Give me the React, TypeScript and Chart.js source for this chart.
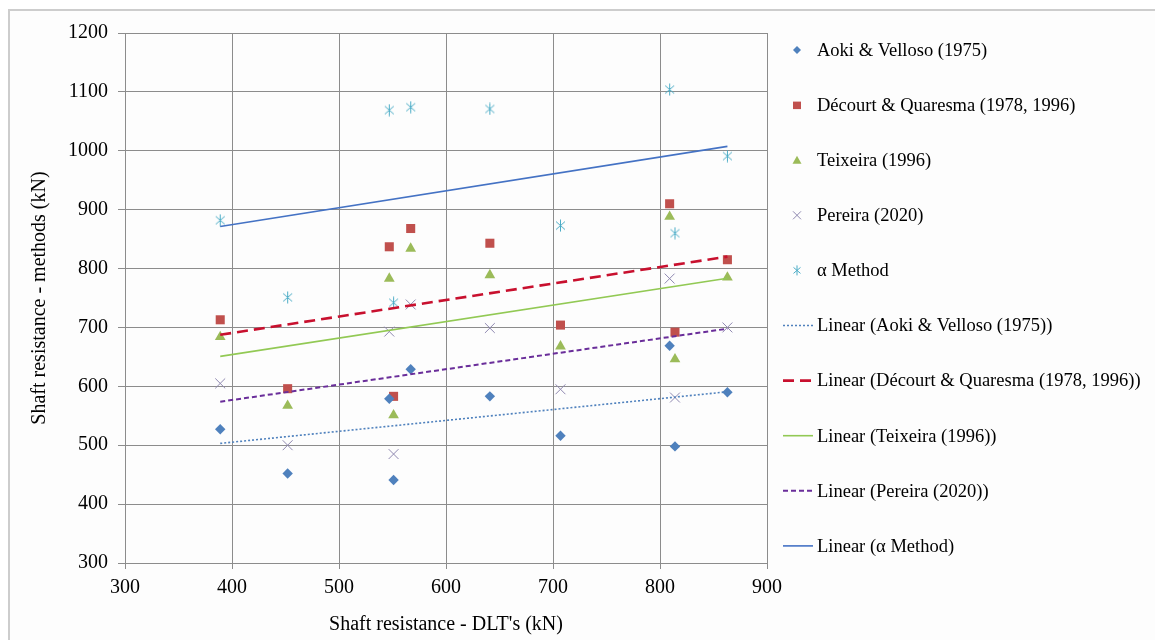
import React, { useEffect, useRef } from "react";
import { Chart, registerables } from "chart.js";

Chart.register(...registerables);

// ---- Data ----
const dltShaft = [389, 452, 547, 551, 567, 641, 707, 809, 814, 863];
const aokiVelloso = [527, 452, 579, 441, 629, 583, 516, 669, 498, 590];
const decourtQuaresma = [713, 596, 837, 583, 868, 843, 704, 910, 692, 815];
const teixeira = [684, 567, 783, 551, 834, 789, 668, 888, 646, 785];
const pereira = [605, 500, 693, 485, 739, 699, 595, 783, 581, 700];
const alphaMethod = [882, 751, 1069, 742, 1074, 1071, 873, 1104, 860, 991];

const seriesNames = [
  "Aoki & Velloso (1975)",
  "Décourt & Quaresma (1978, 1996)",
  "Teixeira (1996)",
  "Pereira (2020)",
  "α Method",
];
const xTickValues = [300, 400, 500, 600, 700, 800, 900];
const yTickValues = [300, 400, 500, 600, 700, 800, 900, 1000, 1100, 1200];
const xTitle = "Shaft resistance - DLT's (kN)";
const yTitle = "Shaft resistance - methods (kN)";

const FONT = "'Liberation Serif', 'Times New Roman', Times, serif";

const pointColors = ["#4F81BD", "#C0504D", "#9BBB59", "#8F88B0", "#4BACC6"];
const markerKinds = ["diamond", "square", "triangle", "x", "asterisk"];
const trendColors = ["#4F81BD", "#C8102E", "#92C954", "#6A2E9A", "#4472C4"];
const trendDash: number[][] = [[2, 2], [11, 6], [], [5, 3], []];
const trendWidth = [1.6, 2.6, 1.6, 2.0, 1.6];

function toPoints(ys: number[]) {
  return ys.map((y, i) => ({ x: dltShaft[i], y }));
}

function linearTrend(ys: number[]) {
  const n = ys.length;
  const mx = dltShaft.reduce((a, b) => a + b, 0) / n;
  const my = ys.reduce((a, b) => a + b, 0) / n;
  let sxy = 0;
  let sxx = 0;
  for (let i = 0; i < n; i++) {
    sxy += (dltShaft[i] - mx) * (ys[i] - my);
    sxx += (dltShaft[i] - mx) * (dltShaft[i] - mx);
  }
  const slope = sxy / sxx;
  const x0 = Math.min(...dltShaft);
  const x1 = Math.max(...dltShaft);
  return [
    { x: x0, y: my + slope * (x0 - mx) },
    { x: x1, y: my + slope * (x1 - mx) },
  ];
}

function makeAsterisk(size: number, color: string) {
  const c = document.createElement("canvas");
  c.width = size;
  c.height = size + 2;
  const g = c.getContext("2d")!;
  g.strokeStyle = color;
  g.lineWidth = 1;
  const cx = size / 2;
  const h = size + 2;
  g.beginPath();
  g.moveTo(cx, 0.5);
  g.lineTo(cx, h - 0.5);
  g.moveTo(1, 2.5);
  g.lineTo(size - 1, h - 2.5);
  g.moveTo(size - 1, 2.5);
  g.lineTo(1, h - 2.5);
  g.stroke();
  return c;
}

function drawMarker(ctx: CanvasRenderingContext2D, kind: string, x: number, y: number, color: string) {
  ctx.save();
  ctx.fillStyle = color;
  ctx.strokeStyle = color;
  ctx.lineWidth = 1;
  ctx.beginPath();
  if (kind === "diamond") {
    ctx.moveTo(x, y - 4);
    ctx.lineTo(x + 4, y);
    ctx.lineTo(x, y + 4);
    ctx.lineTo(x - 4, y);
    ctx.closePath();
    ctx.fill();
  } else if (kind === "square") {
    ctx.rect(x - 4, y - 3.5, 8, 7.5);
    ctx.fill();
  } else if (kind === "triangle") {
    ctx.moveTo(x, y - 4.5);
    ctx.lineTo(x + 4.5, y + 3.5);
    ctx.lineTo(x - 4.5, y + 3.5);
    ctx.closePath();
    ctx.fill();
  } else if (kind === "x") {
    ctx.moveTo(x - 4, y - 4);
    ctx.lineTo(x + 4, y + 4);
    ctx.moveTo(x + 4, y - 4);
    ctx.lineTo(x - 4, y + 4);
    ctx.stroke();
  } else if (kind === "asterisk") {
    ctx.moveTo(x, y - 5);
    ctx.lineTo(x, y + 5);
    ctx.moveTo(x - 3.5, y - 3);
    ctx.lineTo(x + 3.5, y + 3);
    ctx.moveTo(x + 3.5, y - 3);
    ctx.lineTo(x - 3.5, y + 3);
    ctx.stroke();
  }
  ctx.restore();
}

const legendPlugin = {
  id: "sideLegend",
  afterDraw(chart: any) {
    const ctx: CanvasRenderingContext2D = chart.ctx;
    const area = chart.chartArea;
    ctx.save();
    ctx.font = `18.5px ${FONT}`;
    ctx.fillStyle = "#000";
    ctx.textAlign = "left";
    ctx.textBaseline = "middle";
    chart.data.datasets.forEach((ds: any, i: number) => {
      const y = area.top + 17 + i * 55.1;
      if (ds.showLine) {
        ctx.save();
        ctx.strokeStyle = ds.borderColor;
        ctx.lineWidth = ds.borderWidth;
        ctx.setLineDash(ds.borderDash || []);
        ctx.beginPath();
        ctx.moveTo(area.right + 16, y);
        ctx.lineTo(area.right + 46, y);
        ctx.stroke();
        ctx.restore();
      } else {
        drawMarker(ctx, ds.markerKind, area.right + 30, y, ds.backgroundColor);
      }
      ctx.fillText(ds.label, area.right + 50, y + 1);
    });
    ctx.restore();
  },
};

export default function App() {
  const canvasRef = useRef<HTMLCanvasElement>(null);

  useEffect(() => {
    const canvas = canvasRef.current;
    if (!canvas) return;
    const star = makeAsterisk(11, pointColors[4]);
    const allSeries = [aokiVelloso, decourtQuaresma, teixeira, pereira, alphaMethod];
    const pointStyles: any[] = ["rectRot", "rect", "triangle", "crossRot", star];
    const radii = [5.2, 6.4, 6.2, 7, 6];

    const pointSets = allSeries.map((ys, i) => ({
      label: seriesNames[i],
      data: toPoints(ys),
      showLine: false,
      pointStyle: pointStyles[i],
      pointRadius: radii[i],
      pointHoverRadius: radii[i],
      backgroundColor: pointColors[i],
      borderColor: pointColors[i],
      pointBorderWidth: i === 3 ? 1 : 0,
      markerKind: markerKinds[i],
      order: 2,
    }));
    const trendSets = allSeries.map((ys, i) => ({
      label: `Linear (${seriesNames[i]})`,
      data: linearTrend(ys),
      showLine: true,
      fill: false,
      pointRadius: 0,
      pointHoverRadius: 0,
      borderColor: trendColors[i],
      backgroundColor: trendColors[i],
      borderWidth: trendWidth[i],
      borderDash: trendDash[i],
      order: 1,
    }));

    const gridColor = "#8c8c8c";
    const chart = new Chart(canvas, {
      type: "scatter",
      data: { datasets: [...pointSets, ...trendSets] as any },
      options: {
        responsive: false,
        animation: false,
        devicePixelRatio: 1,
        layout: { padding: { left: 0, top: 33, right: 388, bottom: 0 } },
        plugins: { legend: { display: false }, tooltip: { enabled: false } },
        scales: {
          x: {
            type: "linear",
            min: 300,
            max: 900,
            afterFit: (s: any) => {
              s.height = 77;
            },
            afterBuildTicks: (s: any) => {
              s.ticks = xTickValues.map((v) => ({ value: v }));
            },
            grid: { color: gridColor, lineWidth: 1, tickLength: 6, tickColor: gridColor },
            border: { color: gridColor, width: 1 },
            ticks: {
              padding: 7,
              color: "#000",
              font: { family: FONT, size: 20 },
              maxRotation: 0,
              callback: (v: any) => String(v),
            },
            title: {
              display: true,
              text: xTitle,
              color: "#000",
              font: { family: FONT, size: 20 },
              padding: { top: 0, bottom: 3 },
            },
          },
          y: {
            type: "linear",
            min: 300,
            max: 1200,
            afterFit: (s: any) => {
              s.width = 125;
            },
            afterBuildTicks: (s: any) => {
              s.ticks = yTickValues.map((v) => ({ value: v }));
            },
            grid: { color: gridColor, lineWidth: 1, tickLength: 7, tickColor: gridColor },
            border: { color: gridColor, width: 1 },
            ticks: {
              padding: 10,
              color: "#000",
              font: { family: FONT, size: 20 },
              callback: (v: any) => String(v),
            },
            title: {
              display: true,
              text: yTitle,
              color: "#000",
              font: { family: FONT, size: 20 },
              padding: { top: 28, bottom: 0 },
            },
          },
        },
      },
      plugins: [legendPlugin],
    } as any);
    return () => chart.destroy();
  }, []);

  return (
    <div
      style={{
        position: "absolute",
        left: 0,
        top: 0,
        width: 1155,
        height: 640,
        background: "#ffffff",
        overflow: "hidden",
      }}
    >
      <div
        style={{
          position: "absolute",
          left: 8,
          top: 9,
          width: 1180,
          height: 680,
          border: "2px solid #cdcdcd",
          boxSizing: "border-box",
          background: "#fdfdfd",
        }}
      />
      <canvas
        ref={canvasRef}
        width={1155}
        height={640}
        style={{ position: "absolute", left: 0, top: 0, width: 1155, height: 640 }}
      />
    </div>
  );
}
